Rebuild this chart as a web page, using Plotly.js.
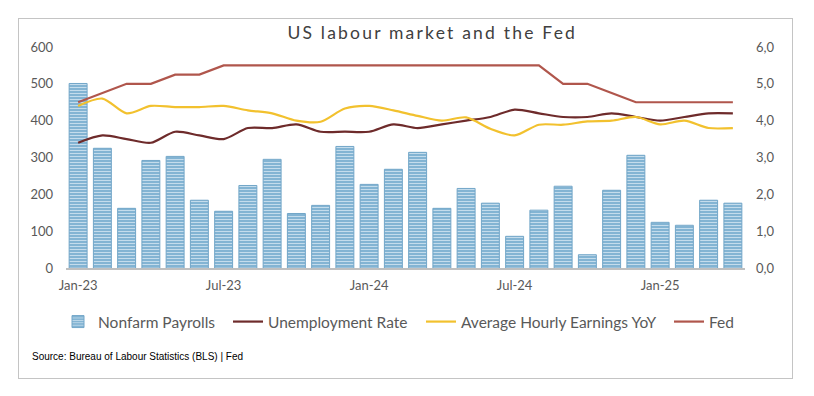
<!DOCTYPE html>
<html><head><meta charset="utf-8">
<script src="https://cdn.plot.ly/plotly-3.0.1.min.js"></script>
<style>
html,body{margin:0;padding:0;background:#fff;}
#wrap{position:relative;width:814px;height:396px;}
#chart{width:814px;height:396px;}
#frame{position:absolute;left:18px;top:18px;width:773px;height:359px;border:1px solid #c4c4c4;pointer-events:none;}
.gtitle{letter-spacing:2.2px;}
</style></head><body>
<div id="wrap"><div id="chart"></div><div id="frame"></div></div>
<script>
// ---- data ----
const months = ['Jan-23','Feb-23','Mar-23','Apr-23','May-23','Jun-23','Jul-23','Aug-23','Sep-23','Oct-23','Nov-23','Dec-23',
                'Jan-24','Feb-24','Mar-24','Apr-24','May-24','Jun-24','Jul-24','Aug-24','Sep-24','Oct-24','Nov-24','Dec-24',
                'Jan-25','Feb-25','Mar-25','Apr-25'];
const nonfarmPayrolls = [501,325,162,292,303,184,154,224,295,148,170,330,227,268,314,162,216,176,86,157,222,36,211,306,124,116,184,176];
const unemploymentRate = [3.4,3.6,3.5,3.4,3.7,3.6,3.5,3.8,3.8,3.9,3.7,3.7,3.7,3.9,3.8,3.9,4.0,4.1,4.3,4.2,4.1,4.1,4.2,4.1,4.0,4.1,4.2,4.2];
const avgHourlyEarningsYoY = [4.4,4.6,4.2,4.4,4.37,4.37,4.4,4.28,4.2,4.0,3.97,4.33,4.4,4.28,4.13,4.0,4.09,3.78,3.6,3.89,3.89,3.98,4.0,4.1,3.9,4.0,3.8,3.8];
const fedRate = [4.5,4.75,5.0,5.0,5.25,5.25,5.5,5.5,5.5,5.5,5.5,5.5,5.5,5.5,5.5,5.5,5.5,5.5,5.5,5.5,5.0,5.0,4.75,4.5,4.5,4.5,4.5,4.5];
const tickLabels = ['Jan-23','Jul-23','Jan-24','Jul-24','Jan-25'];
const seriesNames = ['Nonfarm Payrolls','Unemployment Rate','Average Hourly Earnings YoY','Fed'];

const idx = months.map((m,i)=>i);
const labelIdx = tickLabels.map(t=>months.indexOf(t));
const boundaryIdx = labelIdx.map(i=>i-0.5);

const FONT = 'Lato, "Open Sans", sans-serif';
const traces = [
  {type:'bar', name:seriesNames[0], legend:'legend', x:idx, y:nonfarmPayrolls, yaxis:'y', xaxis:'x',
   marker:{color:'#7cb0d1', line:{color:'#72a6c8', width:1},
           pattern:{shape:'-', bgcolor:'#7cb0d1', fgcolor:'#c4dcec', size:3, solidity:0.4}}},
  {type:'scatter', mode:'lines', name:seriesNames[1], legend:'legend2', x:idx, y:unemploymentRate, yaxis:'y2', xaxis:'x',
   line:{color:'#6e2b2b', width:2.2, shape:'spline', smoothing:0.8}},
  {type:'scatter', mode:'lines', name:seriesNames[2], legend:'legend3', x:idx, y:avgHourlyEarningsYoY, yaxis:'y2', xaxis:'x',
   line:{color:'#f2c12e', width:2.2, shape:'spline', smoothing:0.8}},
  {type:'scatter', mode:'lines', name:seriesNames[3], legend:'legend4', x:idx, y:fedRate, yaxis:'y2', xaxis:'x',
   line:{color:'#b0564c', width:2.2}}
];

function legendAt(textStart){
  return {orientation:'h', xref:'container', yref:'container', x:(textStart-40)/814, xanchor:'left',
          y:1-322/396, yanchor:'middle', font:{family:FONT, size:15.5, color:'#595959'},
          itemwidth:30, bgcolor:'rgba(0,0,0,0)'};
}

const layout = {
  width:814, height:396,
  margin:{l:66, r:69, t:47, b:128},
  paper_bgcolor:'#fff', plot_bgcolor:'#fff',
  separators:', ',
  font:{family:FONT, color:'#595959', size:13},
  bargap:0.26,
  showlegend:true,
  title:{text:'US labour market and the Fed', font:{family:FONT, size:17.5, color:'#404040'},
         xref:'container', x:0.531, xanchor:'center', yref:'container', y:1-33/396, yanchor:'middle'},
  xaxis:{range:[-0.5, months.length-0.5], tickmode:'array', tickvals:labelIdx, ticktext:tickLabels,
         ticks:'', showgrid:false, zeroline:false, showline:true, linecolor:'#bfbfbf', linewidth:2,
         tickfont:{family:FONT, size:13, color:'#595959'}, ticklabelstandoff:4, fixedrange:true},
  xaxis3:{overlaying:'x', anchor:'y', side:'bottom', range:[-0.5, months.length-0.5], tickmode:'array',
          tickvals:boundaryIdx, ticks:'outside', ticklen:5, tickwidth:1.5, tickcolor:'#bfbfbf',
          showticklabels:false, showgrid:false, zeroline:false, showline:false},
  yaxis:{range:[0,600], dtick:100, tickmode:'linear', tick0:0, showgrid:false, zeroline:false, showline:false,
         ticks:'', ticklabelstandoff:12, tickfont:{family:FONT, size:13, color:'#595959'}},
  yaxis2:{range:[0,6], dtick:1, tickmode:'linear', tick0:0, overlaying:'y', side:'right', tickformat:'.1f',
          showgrid:false, zeroline:false, showline:false, ticks:'', ticklabelstandoff:10,
          tickfont:{family:FONT, size:13, color:'#595959'}},
  legend:legendAt(98),
  legend2:legendAt(268),
  legend3:legendAt(461),
  legend4:legendAt(709),
  annotations:[{text:'Source: Bureau of Labour Statistics (BLS) | Fed', xref:'paper', yref:'paper',
                x:(30-66)/679, xanchor:'left', y:(268-356)/221, yanchor:'middle', showarrow:false,
                font:{family:'"Liberation Sans Narrow", "Liberation Sans", sans-serif', size:10, color:'#000'}}]
};

Plotly.newPlot('chart', traces, layout, {displayModeBar:false, staticPlot:true});
</script>
</body></html>
